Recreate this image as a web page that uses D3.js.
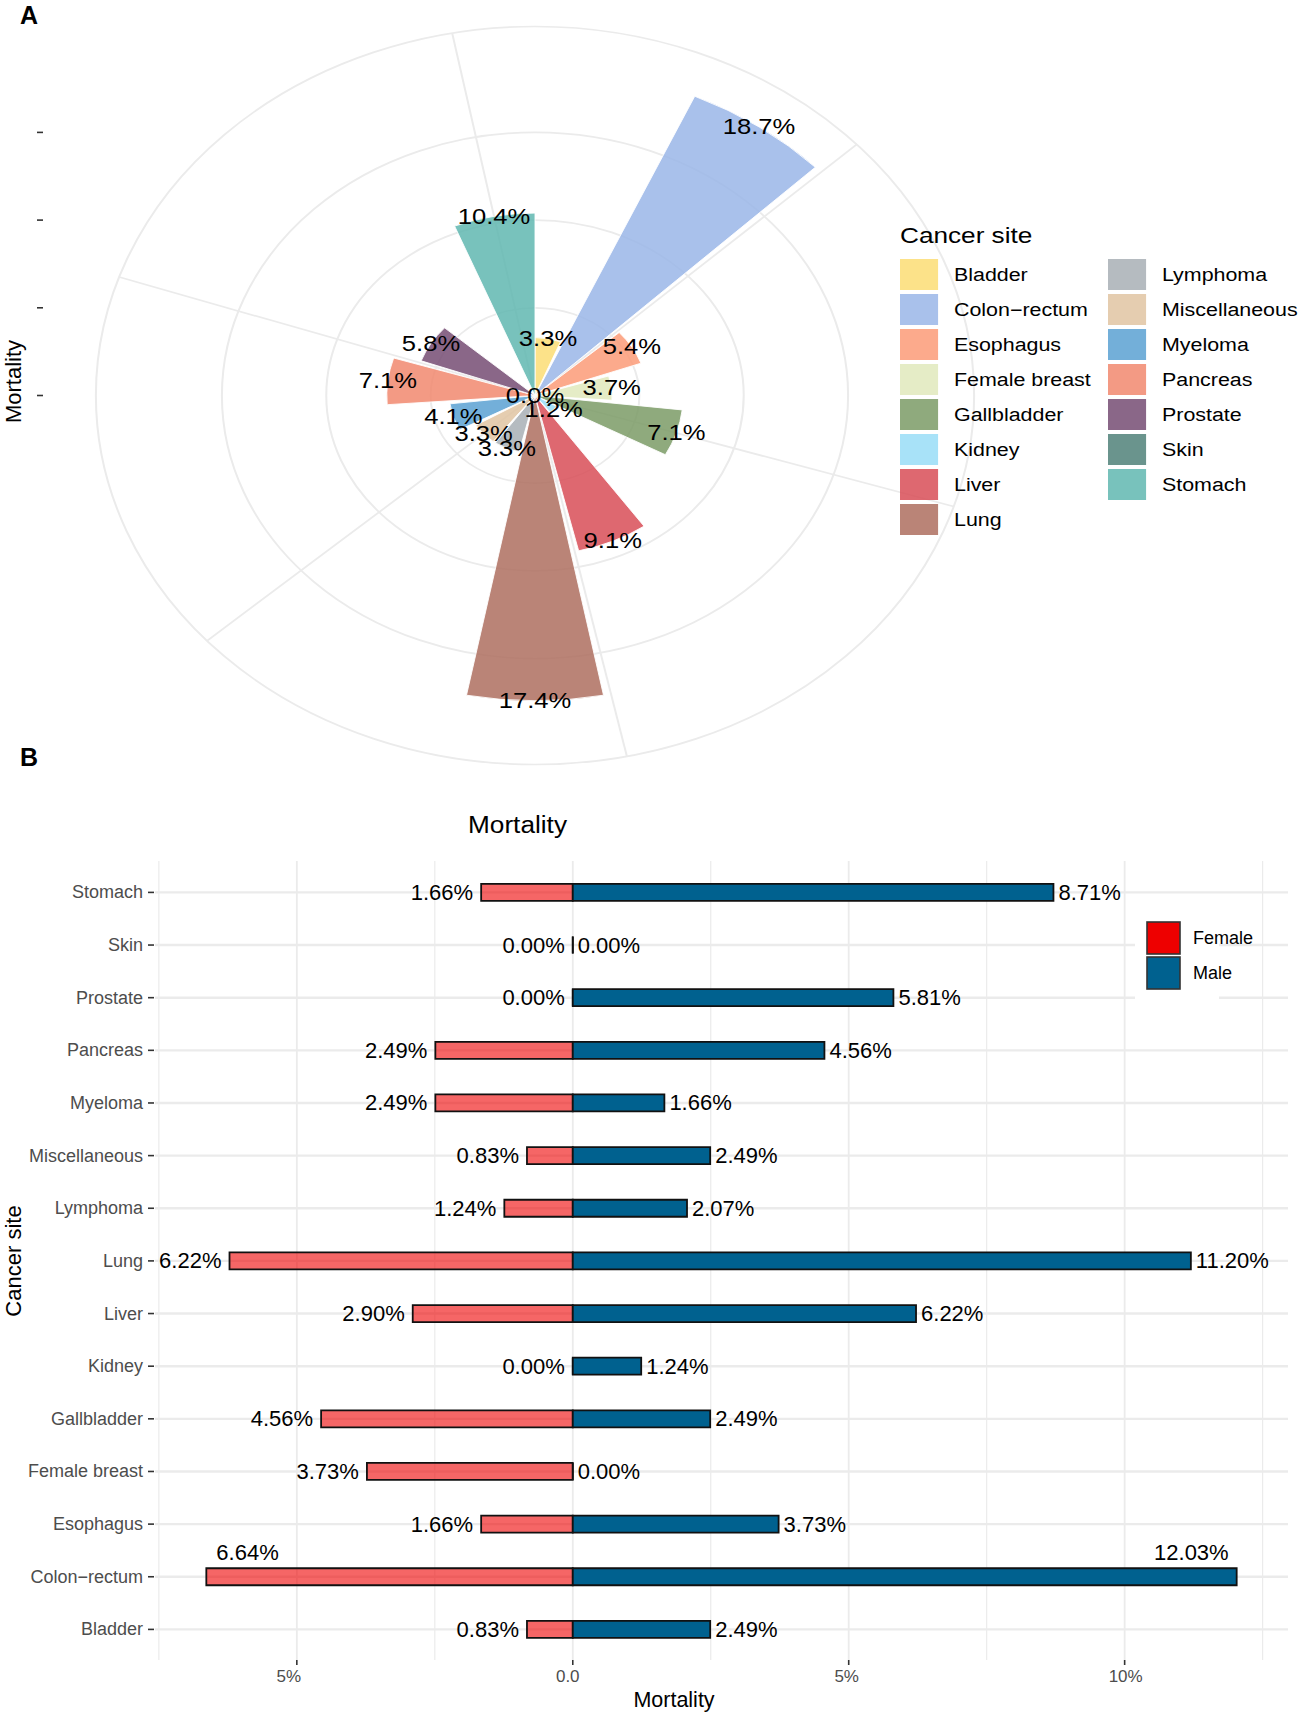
<!DOCTYPE html>
<html><head><meta charset="utf-8">
<script src="https://cdn.jsdelivr.net/npm/d3@7"></script>
<style>
body{margin:0;background:#fff}
text{font-family:"Liberation Sans", Arial, Helvetica, sans-serif}
</style>
</head><body>
<svg id="chart" width="1299" height="1714"></svg>
<script>
// ---------------- DATA ----------------
const cancerSites = ["Bladder","Colon\u2212rectum","Esophagus","Female breast","Gallbladder","Kidney","Liver","Lung","Lymphoma","Miscellaneous","Myeloma","Pancreas","Prostate","Skin","Stomach"];
const totalMortality  = [3.3, 18.7, 5.4, 3.7, 7.1, 1.2, 9.1, 17.4, 3.3, 3.3, 4.1, 7.1, 5.8, 0.0, 10.4];
const femaleMortality = [0.83, 6.64, 1.66, 3.73, 4.56, 0.00, 2.90, 6.22, 1.24, 0.83, 2.49, 2.49, 0.00, 0.00, 1.66];
const maleMortality   = [2.49, 12.03, 3.73, 0.00, 2.49, 1.24, 6.22, 11.20, 2.07, 2.49, 1.66, 4.56, 5.81, 0.00, 8.71];
const siteColors = ["#FCE289","#A9C1EB","#FCAA8C","#E5ECC6","#8FAA7D","#A8E2F8","#DE6870","#BA8477","#B5BBC0","#E5CDB0","#73AFD9","#F39A84","#8A6788","#6A948D","#78C2BC"];
const rBreaks = [0, 5, 10, 15];
const thetaBreaks = [2.5, 5, 7.5, 10, 12.5, 15];
const sexes = ["Female", "Male"];
const sexColors = ["#EE0000", "#00618F"];
const xMajor = [-5, 0, 5, 10];
const xTickLabels = ["5%", "0.0", "5%", "10%"];
const xMinor = [-7.5, -2.5, 2.5, 7.5, 12.5];

const svg = d3.select("#chart");
const grid = "#EBEBEB";
const alphaA = 0.85;
// colour that, drawn with alphaA over white, shows the legend colour
const baseCol = c => { const o = d3.rgb(c); const f = v => Math.max(0, Math.min(255, (v - 255*(1-alphaA))/alphaA)); return d3.rgb(f(o.r), f(o.g), f(o.b)).formatHex(); };

// ---------------- PANEL A ----------------
const sx = 1.19, cx = 535, cy = 395.5;
svg.append("text").attr("x", 20).attr("y", 24).attr("font-size", 25).attr("font-weight", "bold").text("A");

const theta = d3.scaleLinear().domain([0.55, 15.45]).range([0, 2*Math.PI]);
const rA = d3.scaleLinear().domain([0, 18.7]).range([0, 328]);
const rOuter = rA(18.7) * 0.45 / 0.4;

const gA = svg.append("g").attr("transform", `translate(${cx},${cy}) scale(${sx},1)`);
gA.selectAll("circle.grid").data(rBreaks.filter(b => b > 0).map(b => rA(b)).concat([rOuter]))
  .join("circle").attr("class","grid").attr("r", d => d).attr("fill","none").attr("stroke", grid).attr("stroke-width", 1.7);
gA.selectAll("line.spoke").data(thetaBreaks).join("line").attr("class","spoke")
  .attr("x1", 0).attr("y1", 0)
  .attr("x2", d => rOuter*Math.sin(theta(d))).attr("y2", d => -rOuter*Math.cos(theta(d)))
  .attr("stroke", grid).attr("stroke-width", 1.7);
const arc = d3.arc().innerRadius(0);
gA.selectAll("path.bar").data(totalMortality).join("path").attr("class","bar")
  .attr("d", (v, i) => arc({outerRadius: rA(v), startAngle: theta(i+1-0.45), endAngle: theta(i+1+0.45)}))
  .attr("fill", (v, i) => baseCol(siteColors[i])).attr("fill-opacity", alphaA)
  .attr("stroke", "#fff").attr("stroke-width", 0.8);
gA.selectAll("text.lab").data(totalMortality).join("text").attr("class","lab")
  .attr("x", (v, i) => rA(v)*Math.sin(theta(i+1))).attr("y", (v, i) => -rA(v)*Math.cos(theta(i+1)))
  .attr("text-anchor","middle").attr("dominant-baseline","central").attr("font-size", 21.5).attr("fill","#000")
  .text(v => d3.format(".1f")(v) + "%");
svg.selectAll("line.rtick").data(rBreaks).join("line").attr("class","rtick")
  .attr("x1", 37).attr("x2", 43).attr("y1", d => cy - rA(d)).attr("y2", d => cy - rA(d))
  .attr("stroke", "#333").attr("stroke-width", 1.6);
svg.append("text").attr("transform", "translate(21,381.5) rotate(-90)").attr("text-anchor","middle")
  .attr("font-size", 22).text("Mortality");

const gL = svg.append("g").attr("transform", `scale(${sx},1)`);
gL.append("text").attr("x", 900/sx).attr("y", 243).attr("font-size", 22).text("Cancer site");
const keyCols = [900, 1108], labCols = [954, 1162];
const leg = gL.selectAll("g.key").data(cancerSites).join("g").attr("class","key")
  .attr("transform", (d, i) => `translate(0,${259 + (i % 8)*35})`);
leg.append("rect").attr("x", (d, i) => keyCols[Math.floor(i/8)]/sx).attr("y", 0).attr("width", 32).attr("height", 31)
  .attr("fill", (d, i) => baseCol(siteColors[i])).attr("fill-opacity", alphaA);
leg.append("text").attr("x", (d, i) => labCols[Math.floor(i/8)]/sx).attr("y", 15.5)
  .attr("dominant-baseline","central").attr("font-size", 18).text(d => d);

// ---------------- PANEL B ----------------
svg.append("text").attr("x", 20).attr("y", 766).attr("font-size", 25).attr("font-weight", "bold").text("B");
const pL = 155, pR = 1288, pT = 861, pB = 1660;
const x = d3.scaleLinear().domain([-7.57, 12.96]).range([pL, pR]);
const y = d3.scalePoint().domain(cancerSites.slice().reverse()).range([892.4, 1629.4]);
const gB = svg.append("g");
gB.selectAll("line.vmin").data(xMinor).join("line").attr("x1", d => x(d)).attr("x2", d => x(d)).attr("y1", pT).attr("y2", pB)
  .attr("stroke", grid).attr("stroke-width", 1.2);
gB.selectAll("line.vmaj").data(xMajor).join("line").attr("x1", d => x(d)).attr("x2", d => x(d)).attr("y1", pT).attr("y2", pB)
  .attr("stroke", grid).attr("stroke-width", 1.8);
gB.selectAll("line.hmaj").data(cancerSites).join("line").attr("x1", pL).attr("x2", pR).attr("y1", d => y(d)).attr("y2", d => y(d))
  .attr("stroke", grid).attr("stroke-width", 2.4);
const hb = 8.5;
const barPath = (x0, x1, yc) => `M${x0},${yc-hb}H${x1}V${yc+hb}H${x0}Z`;
gB.selectAll("path.fem").data(femaleMortality).join("path")
  .attr("d", (v, i) => barPath(x(-v), x(0), y(cancerSites[i])))
  .attr("fill", sexColors[0]).attr("fill-opacity", 0.6).attr("stroke", "#111").attr("stroke-width", 1.8);
gB.selectAll("path.male").data(maleMortality).join("path")
  .attr("d", (v, i) => barPath(x(0), x(v), y(cancerSites[i])))
  .attr("fill", sexColors[1]).attr("stroke", "#111").attr("stroke-width", 1.8);
const fmt = v => d3.format(".2f")(v) + "%";
gB.selectAll("text.fl").data(femaleMortality).join("text").attr("class","fl")
  .attr("font-size", 22).attr("dominant-baseline","central").text(v => fmt(v))
  .each(function(v, i) {
    const t = d3.select(this), w = this.getComputedTextLength(), yc = y(cancerSites[i]);
    if (x(-v) - 8 - w < pL) { t.attr("x", x(-v) + 10).attr("y", yc - 24).attr("text-anchor","start"); }
    else { t.attr("x", x(-v) - 8).attr("y", yc).attr("text-anchor","end"); }
  });
gB.selectAll("text.ml").data(maleMortality).join("text").attr("class","ml")
  .attr("font-size", 22).attr("dominant-baseline","central").text(v => fmt(v))
  .each(function(v, i) {
    const t = d3.select(this), w = this.getComputedTextLength(), yc = y(cancerSites[i]);
    if (x(v) + 5 + w > pR) { t.attr("x", x(v) - 8).attr("y", yc - 24).attr("text-anchor","end"); }
    else { t.attr("x", x(v) + 5).attr("y", yc).attr("text-anchor","start"); }
  });
gB.selectAll("line.yt").data(cancerSites).join("line").attr("x1", 148).attr("x2", 154)
  .attr("y1", d => y(d)).attr("y2", d => y(d)).attr("stroke", "#333").attr("stroke-width", 1.6);
gB.selectAll("text.yl").data(cancerSites).join("text").attr("x", 143).attr("y", d => y(d))
  .attr("text-anchor","end").attr("dominant-baseline","central").attr("font-size", 18).attr("fill", "#4D4D4D").text(d => d);
gB.selectAll("line.xt").data(xMajor).join("line").attr("x1", d => x(d)).attr("x2", d => x(d))
  .attr("y1", pB).attr("y2", pB + 5).attr("stroke", "#333").attr("stroke-width", 1.6);
gB.selectAll("text.xl").data(xMajor).join("text").attr("x", d => x(d) - 5 + d * 0.6).attr("y", 1681.5)
  .attr("text-anchor","middle").attr("font-size", 17).attr("fill", "#4D4D4D").text((d, i) => xTickLabels[i]);
svg.append("text").attr("x", 674).attr("y", 1706.5).attr("text-anchor","middle").attr("font-size", 21.5).text("Mortality");
svg.append("text").attr("x", 517.5).attr("y", 833).attr("text-anchor","middle").attr("font-size", 23)
  .attr("textLength", 99).attr("lengthAdjust","spacingAndGlyphs").text("Mortality");
svg.append("text").attr("transform", "translate(21,1261) rotate(-90)").attr("text-anchor","middle")
  .attr("font-size", 22).text("Cancer site");
const gLB = svg.append("g");
gLB.append("rect").attr("x", 1135).attr("y", 905).attr("width", 84).attr("height", 98).attr("fill", "#fff");
gLB.selectAll("rect.k").data(sexes).join("rect").attr("class","k")
  .attr("x", 1147).attr("y", (d, i) => 922 + i*35).attr("width", 33).attr("height", 32)
  .attr("fill", (d, i) => sexColors[i]).attr("stroke", "#333").attr("stroke-width", 1.6);
gLB.selectAll("text.k").data(sexes).join("text").attr("class","k")
  .attr("x", 1193).attr("y", (d, i) => 938 + i*35).attr("dominant-baseline","central").attr("font-size", 18).text(d => d);
</script>
</body></html>
